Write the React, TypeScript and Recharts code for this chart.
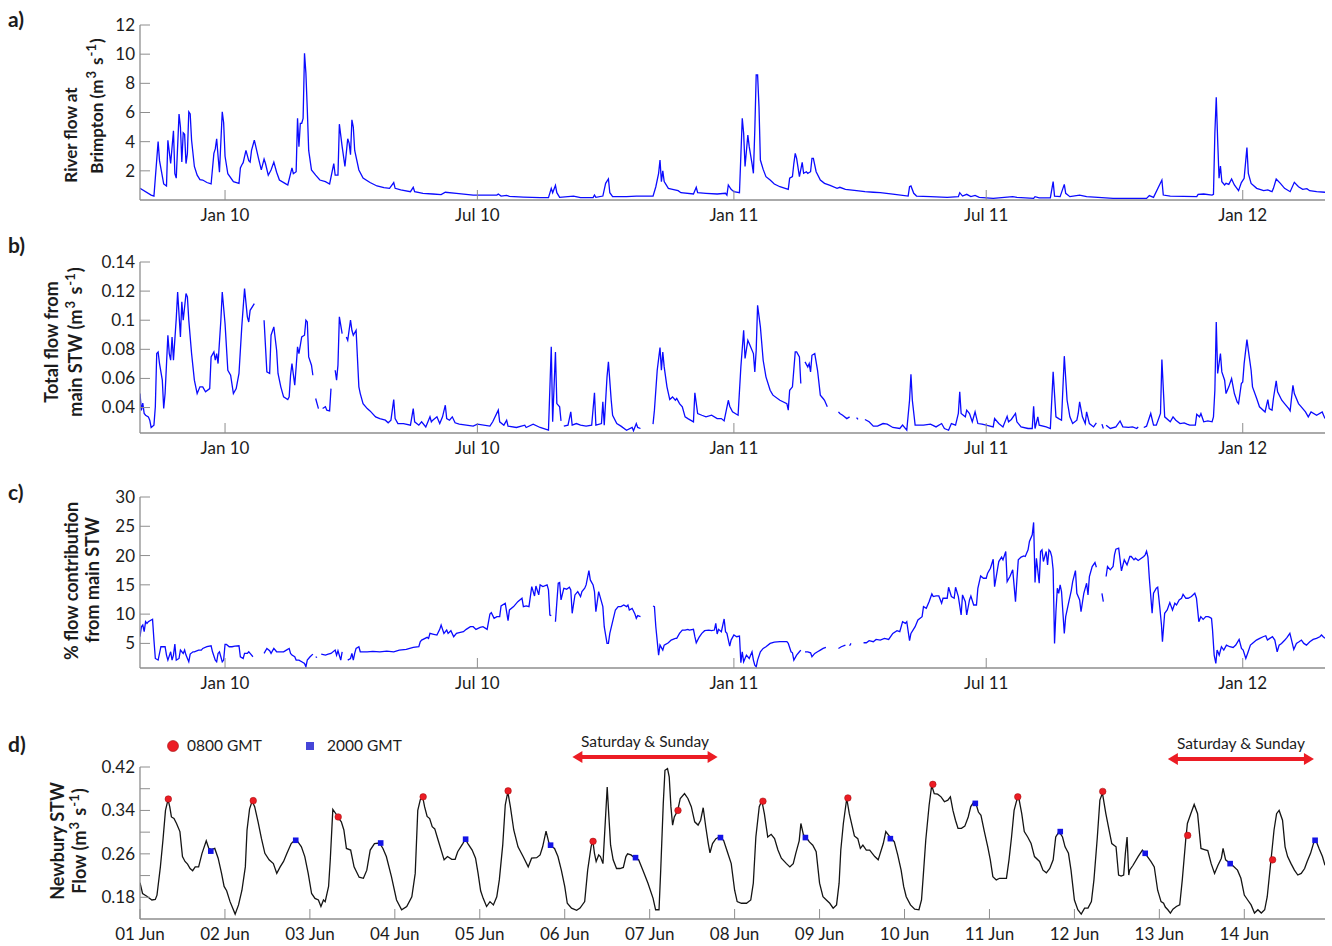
import React from "react";
import {
  ComposedChart,
  Legend,
  Line,
  LineChart,
  ReferenceLine,
  Scatter,
  XAxis,
  YAxis,
} from "recharts";

// ---- data ----
// days since 1 Nov 2009
const monthTicks = [61, 242, 426, 607, 791];
const monthNames = ["Jan 10", "Jul 10", "Jan 11", "Jul 11", "Jan 12"];

// a) river flow at Brimpton, [day, m3/s]
const riverFlow: [number, number][] = [
  [0, 0.8], [8, 0.34], [10, 0.27], [13, 4.0], [14, 2.7], [17, 1.1], [19, 0.96], [20, 4.1], [22, 2.5], [24, 4.75],
  [25, 1.8], [26, 1.5], [28, 5.9], [29, 5.0], [30, 2.6], [31, 4.6], [32, 4.5], [33, 2.5], [34, 3.2], [35, 6.05],
  [36, 5.9], [37, 4.1], [39, 2.3], [41, 1.7], [43, 1.4], [45, 1.37], [48, 1.2], [51, 1.1], [53, 3.2], [54, 3.5],
  [55, 4.2], [56, 3.0], [57, 1.9], [59, 6.05], [60, 5.3], [61, 3.0], [63, 1.8], [67, 1.26], [71, 1.14], [72, 2.2],
  [73, 2.4], [74, 2.56], [76, 3.4], [78, 2.7], [79, 2.6], [80, 3.4], [82, 4.1], [83, 3.7], [85, 2.86], [87, 2.06],
  [89, 2.8], [90, 2.5], [92, 1.7], [94, 2.06], [96, 2.6], [98, 1.9], [100, 1.37], [104, 1.14], [106, 1.03], [109, 2.2],
  [110, 1.8], [112, 1.94], [113, 5.6], [114, 3.66], [115, 5.26], [116, 5.26], [117, 5.6], [118, 10.06], [119, 8.7], [120, 6.2],
  [121, 3.4], [123, 2.06], [126, 1.7], [129, 1.37], [133, 1.26], [136, 1.1], [139, 2.5], [140, 1.7], [142, 1.7], [143, 5.2],
  [145, 3.66], [147, 2.3], [149, 4.2], [150, 3.9], [151, 3.1], [152, 5.5], [153, 5.0], [154, 3.4], [157, 2.06], [160, 1.5],
  [165, 1.2], [170, 0.96], [175, 0.85], [179, 0.8], [182, 1.2], [183, 0.8], [187, 0.69], [194, 0.57], [196, 0.87], [197, 0.57],
  [203, 0.46], [210, 0.41], [216, 0.37], [219, 0.53], [227, 0.46], [239, 0.34], [256, 0.34], [257, 0.41], [259, 0.27], [263, 0.32],
  [265, 0.25], [275, 0.2], [287, 0.16], [293, 0.16], [295, 0.8], [296, 0.5], [298, 1.0], [299, 0.5], [301, 0.18], [311, 0.27],
  [316, 0.16], [325, 0.16], [326, 0.34], [327, 0.18], [332, 0.27], [334, 1.14], [336, 1.44], [337, 0.5], [339, 0.23], [349, 0.23],
  [356, 0.27], [368, 0.27], [370, 0.91], [372, 1.83], [373, 2.74], [374, 1.26], [375, 2.0], [376, 1.26], [379, 0.8], [382, 0.73],
  [386, 0.64], [388, 0.5], [397, 0.41], [399, 0.87], [400, 0.5], [406, 0.46], [414, 0.41], [420, 0.46], [421, 0.34], [422, 1.03],
  [424, 0.73], [426, 0.57], [430, 0.5], [432, 5.6], [433, 4.57], [434, 2.3], [436, 4.46], [437, 3.66], [439, 2.5], [440, 1.83],
  [441, 4.8], [442, 8.57], [443, 8.57], [444, 6.4], [445, 2.74], [447, 2.1], [449, 1.6], [452, 1.37], [455, 1.1], [459, 0.91],
  [465, 0.73], [466, 1.49], [468, 1.6], [469, 2.5], [470, 3.2], [471, 2.86], [473, 1.6], [475, 2.58], [476, 1.83], [478, 1.94],
  [479, 1.83], [481, 1.94], [482, 2.86], [483, 2.86], [485, 1.94], [488, 1.37], [491, 1.14], [495, 1.0], [500, 0.8], [502, 0.87],
  [506, 0.73], [514, 0.64], [520, 0.57], [526, 0.53], [531, 0.5], [540, 0.41], [551, 0.27], [552, 0.91], [553, 0.96], [555, 0.46],
  [557, 0.27], [567, 0.23], [579, 0.18], [587, 0.23], [588, 0.5], [590, 0.27], [593, 0.39], [596, 0.23], [599, 0.32], [602, 0.18],
  [612, 0.11], [626, 0.23], [629, 0.18], [641, 0.11], [642, 0.23], [645, 0.14], [653, 0.14], [655, 1.26], [656, 0.27], [660, 0.23],
  [663, 1.07], [664, 0.46], [667, 0.23], [674, 0.34], [679, 0.23], [698, 0.11], [722, 0.11], [724, 0.3], [727, 0.18], [733, 1.37],
  [734, 0.34], [739, 0.27], [758, 0.23], [759, 0.39], [763, 0.41], [769, 0.34], [770, 0.39], [771, 4.57], [772, 7.04], [773, 4.11],
  [774, 1.49], [775, 2.33], [776, 1.26], [778, 1.03], [779, 1.14], [781, 1.07], [783, 1.44], [785, 1.03], [788, 0.64], [790, 1.19],
  [792, 1.49], [794, 3.59], [795, 1.83], [797, 1.14], [801, 0.8], [806, 0.64], [809, 0.69], [812, 0.57], [813, 0.8], [815, 1.44],
  [818, 1.14], [821, 0.8], [825, 0.57], [828, 1.21], [831, 0.91], [834, 0.73], [837, 0.78], [839, 0.64], [844, 0.57], [850, 0.53],
];

// b) total flow from main STW, [day, m3/s]; null = missing record
const stwFlow: [number, number | null][] = [
  [0, 0.0496], [1, 0.038], [2, 0.043], [3, 0.0359], [4, 0.0347], [6, 0.0336], [7, 0.0313], [8, 0.0263], [10, 0.0279], [11, 0.0405],
  [12, 0.0771], [13, 0.0782], [14, 0.0702], [16, 0.0588], [17, 0.0393], [18, 0.0496], [20, 0.0897], [21, 0.0771], [22, 0.0725], [23, 0.0885],
  [24, 0.0725], [26, 0.1011], [27, 0.1194], [29, 0.0885], [30, 0.1126], [31, 0.1], [33, 0.1183], [34, 0.116], [35, 0.1], [37, 0.0771],
  [39, 0.0588], [41, 0.0496], [43, 0.0542], [45, 0.0542], [47, 0.0508], [50, 0.053], [51, 0.0748], [53, 0.0782], [54, 0.0725], [55, 0.0771],
  [56, 0.0702], [58, 0.1], [59, 0.1194], [61, 0.0977], [63, 0.0656], [65, 0.0622], [67, 0.0496], [69, 0.053], [71, 0.0634], [73, 0.0954],
  [75, 0.1217], [77, 0.1023], [78, 0.0988], [79, 0.1068], [82, 0.1114], [85, null], [89, 0.1], [91, 0.0645], [93, 0.0634], [94, 0.0897],
  [96, 0.0954], [98, 0.0794], [99, 0.0634], [101, 0.0542], [103, 0.0473], [106, 0.0455], [107, 0.0473], [108, 0.0622], [109, 0.0702], [111, 0.0553],
  [112, 0.0679], [113, 0.0817], [114, 0.0771], [116, 0.0885], [118, 0.0897], [119, 0.1], [120, 0.0988], [121, 0.0748], [123, 0.0691], [124, 0.0622],
  [125, null], [126, 0.0462], [128, 0.0393], [129.5, null], [131, 0.0393], [133, 0.0405], [134, 0.0382], [136, 0.0377], [137, 0.053], [138.5, null],
  [140, 0.0656], [141, 0.0588], [142, 0.0691], [143, 0.1023], [145, 0.0908], [146.5, null], [148, 0.0885], [149, 0.0862], [151, 0.1], [152, 0.0931],
  [153, 0.0897], [155, 0.0931], [157, 0.0542], [158, 0.0496], [160, 0.0427], [163, 0.0393], [165, 0.0377], [169, 0.0336], [172, 0.0324], [176, 0.0313],
  [178, 0.0295], [180, 0.0313], [182, 0.0455], [183, 0.0324], [185, 0.029], [189, 0.029], [194, 0.0279], [196, 0.0393], [197, 0.0302], [200, 0.0279],
  [202, 0.0302], [205, 0.0267], [208, 0.0336], [209, 0.0302], [210, 0.0313], [213, 0.0336], [215, 0.029], [217, 0.0336], [219, 0.0416], [220, 0.0324],
  [222, 0.0313], [224, 0.0336], [226, 0.0295], [229, 0.0286], [239, 0.0272], [242, 0.0286], [251, 0.0272], [253, 0.0302], [257, 0.0382], [258, 0.0302],
  [261, 0.0279], [263, 0.0313], [264, 0.0272], [270, 0.0263], [276, 0.0279], [277, 0.0263], [282, 0.0286], [287, 0.0263], [293, 0.0244], [295, 0.0817],
  [296, 0.0302], [298, 0.0782], [299, 0.0427], [301, 0.0405], [302, 0.0308], [303, null], [304, 0.0272], [307, 0.0279], [309, 0.037], [310, 0.0279],
  [313, 0.029], [316, 0.0279], [320, 0.0272], [324, 0.0279], [326, 0.0501], [327, 0.0279], [331, 0.029], [332, 0.0439], [333, 0.0279], [335, 0.0611],
  [336, 0.0714], [338, 0.045], [339, 0.0347], [342, 0.029], [345, 0.0272], [349, 0.0244], [353, 0.0263], [354, 0.024], [356, 0.029], [357, 0.0263],
  [359, 0.0256], [363, null], [368, 0.0286], [369, 0.0382], [371, 0.0656], [373, 0.0812], [374, 0.0656], [375, 0.0782], [376, 0.0679], [378, 0.0542],
  [380, 0.0455], [382, 0.0473], [384, 0.045], [385, 0.0462], [387, 0.0427], [389, 0.0405], [391, 0.0336], [393, 0.0324], [397, 0.0302], [398, 0.0501],
  [400, 0.0359], [403, 0.0347], [406, 0.0336], [410, 0.0347], [414, 0.0324], [417, 0.0324], [419, 0.0308], [422, 0.045], [423, 0.0409], [425, 0.037],
  [429, 0.0347], [431, 0.0679], [433, 0.0931], [434, 0.0737], [436, 0.0862], [437, 0.084], [440, 0.0771], [441, 0.0645], [442, 0.0794], [443, 0.1103],
  [445, 0.0954], [446, 0.084], [447, 0.0725], [449, 0.0611], [452, 0.0519], [454, 0.0485], [459, 0.045], [464, 0.0427], [465, 0.0382], [466, 0.0519],
  [468, 0.0542], [470, 0.0782], [471, 0.0782], [473, 0.0748], [474, 0.0565], [475.5, null], [477, 0.0714], [479, 0.0679], [480, 0.0702], [481, 0.0645],
  [482, 0.0759], [484, 0.0771], [486, 0.0656], [488, 0.0485], [490, 0.0462], [491, 0.045], [493, 0.0405], [497, null], [501, 0.037], [502, 0.0359],
  [504, 0.0347], [507, 0.0324], [509, 0.0336], [511, null], [514, 0.0331], [515, 0.0318], [517, null], [520, 0.0318], [523, 0.0302], [526, 0.0272],
  [529, 0.0272], [533, 0.029], [536, 0.0286], [540, 0.0263], [545, 0.0256], [547, 0.0279], [550, 0.0244], [552, 0.045], [553, 0.0629], [554, 0.045],
  [556, 0.0279], [562, 0.0279], [567, 0.0286], [571, 0.0267], [575, 0.029], [577, 0.0256], [580, 0.0244], [582, 0.029], [585, 0.0279], [587, 0.0359],
  [588, 0.0508], [589, 0.0359], [592, 0.0336], [593, 0.0382], [595, 0.0359], [597, 0.0302], [599, 0.037], [601, 0.029], [604, 0.0286], [607, 0.0279],
  [612, 0.0267], [613, 0.0324], [616, 0.029], [619, 0.0267], [622, 0.034], [623, 0.0302], [625, 0.0318], [628, 0.0359], [629, 0.0302], [632, 0.0267],
  [637, 0.0256], [640, 0.0256], [641, 0.0409], [642, 0.0256], [644, 0.0336], [645, 0.0279], [650, 0.0267], [653, 0.0256], [655, 0.0645], [657, 0.0336],
  [659, 0.0324], [661, 0.0313], [663, 0.0753], [665, 0.045], [667, 0.0336], [669, 0.029], [672, 0.0313], [673, 0.0359], [674, 0.0439], [676, 0.0336],
  [678, 0.029], [679, 0.037], [681, 0.029], [684, 0.0267], [686, 0.0295], [688, null], [690, 0.0286], [691, 0.0256], [692, null], [693, 0.0279],
  [696, 0.0256], [700, 0.0267], [703, 0.0308], [705, 0.0267], [709, 0.0263], [712, 0.0267], [715, 0.0256], [716, 0.0267], [718, null], [720, 0.0263],
  [722, 0.0272], [725, 0.0359], [727, 0.0279], [729, 0.0279], [732, 0.0359], [733, 0.073], [735, 0.0336], [739, 0.0302], [741, 0.0336], [743, 0.0313],
  [746, 0.029], [749, 0.0295], [751, 0.0286], [753, 0.0279], [757, 0.0279], [758, 0.0354], [760, 0.0336], [761, 0.0359], [763, 0.0302], [766, 0.0308],
  [769, 0.0302], [770, 0.0336], [771, 0.0519], [772, 0.0988], [773, 0.0634], [775, 0.0771], [776, 0.0645], [778, 0.0588], [779, 0.0496], [781, 0.0542],
  [783, 0.0599], [785, 0.0496], [787, 0.0439], [788, 0.0427], [790, 0.0565], [791, 0.0576], [792, 0.0702], [794, 0.0867], [795, 0.0794], [797, 0.0656],
  [798, 0.0542], [801, 0.0462], [803, 0.0405], [807, 0.037], [809, 0.0455], [810, 0.0393], [812, 0.0382], [813, 0.0462], [815, 0.0583], [816, 0.0508],
  [819, 0.045], [821, 0.0427], [824, 0.0393], [825, 0.0377], [827, 0.0553], [828, 0.0496], [831, 0.0427], [833, 0.0405], [836, 0.037], [838, 0.0336],
  [840, 0.037], [844, 0.0347], [848, 0.037], [850, 0.0324],
];

// c) % flow contribution from main STW, [day, %]
const stwShare: [number, number | null][] = [
  [0, 6.14], [1, 7.85], [2, 8.14], [3, 7.0], [4, 8.71], [5, 8.42], [6, 8.71], [8, 9.0], [9, 9.11], [10, 5.57],
  [11, 2.43], [13, 2.15], [15, 4.43], [17, 4.43], [18, 4.43], [19, 3.0], [20, 2.15], [22, 3.57], [23, 2.15], [24, 3.0],
  [25, 4.89], [26, 2.15], [28, 2.43], [29, 3.86], [31, 3.29], [32, 3.86], [33, 3.0], [35, 1.86], [36, 3.17], [38, 3.57],
  [39, 3.57], [42, 3.86], [44, 3.86], [45, 4.14], [48, 4.43], [51, 4.6], [52, 3.57], [54, 2.15], [55, 1.86], [56, 3.29],
  [57, 3.57], [59, 1.86], [60, 2.15], [61, 4.83], [62, 4.83], [64, 4.43], [66, 4.43], [68, 4.54], [71, 4.6], [72, 2.72],
  [74, 2.43], [75, 3.29], [77, 3.29], [78, 3.57], [79, 3.29], [81, 2.72], [85, null], [89, 3.29], [91, 4.14], [93, 3.74],
  [94, 3.29], [96, 4.14], [98, 3.57], [100, 3.57], [103, 3.57], [105, 3.86], [107, 4.14], [108, 3.29], [109, 3.0], [111, 2.72],
  [112, 2.15], [114, 2.15], [116, 1.86], [118, 1.58], [119, 1.0], [120, 2.15], [122, 2.72], [124, 3.17], [125, null], [126, 2.72],
  [127, 2.6], [128.5, null], [130, 3.17], [133, 3.0], [135, 3.17], [137, 3.29], [140, 3.86], [141, 3.0], [142, 3.74], [144, 2.15],
  [145, 3.57], [147, null], [149, 2.15], [151, 2.43], [152, 3.29], [153, 2.15], [154, 3.29], [155, 4.14], [157, 4.43], [158, 3.57],
  [160, 3.57], [163, 3.57], [167, 3.63], [172, 3.57], [177, 3.69], [182, 3.57], [186, 3.86], [191, 3.97], [196, 4.31], [200, 4.43],
  [201, 5.29], [202, 5.57], [206, 6.03], [207, 5.86], [208, 6.71], [210, 6.6], [213, 6.43], [215, 7.4], [216, 8.14], [218, 6.71],
  [220, 7.28], [221, 6.71], [223, 7.17], [225, 6.14], [227, 6.71], [229, 6.83], [232, 7.0], [234, 7.4], [237, 7.85], [239, 7.85],
  [241, 7.4], [244, 7.74], [246, 7.85], [249, 7.4], [251, 10.02], [252, 10.25], [254, 9.28], [256, 9.57], [258, 9.57], [259, 11.39],
  [262, 11.85], [264, 8.88], [265, 10.71], [268, 11.28], [271, 12.13], [274, 12.71], [275, 11.28], [277, 11.39], [279, 11.28], [281, 14.7],
  [283, 13.1], [284, 14.8], [286, 13.28], [287, 14.99], [289, 14.7], [292, 14.99], [293, 14.13], [294, 9.85], [295, 9.74], [296.5, null],
  [298, 8.71], [300, 15.27], [301, 15.39], [302, 12.42], [304, 14.42], [306, 14.25], [308, 14.59], [309, 14.13], [310, 10.14], [312, 13.28],
  [314, 13.85], [316, 13.0], [317, 13.85], [319, 14.42], [320, 14.99], [322, 17.44], [323, 15.84], [325, 14.99], [326, 13.85], [327, 10.42],
  [329, 13.85], [330, 13.0], [332, 11.28], [333, 7.85], [335, 5.0], [336, 5.0], [337, 6.71], [339, 8.71], [341, 10.71], [343, 11.28],
  [345, 11.28], [347, 11.56], [349, 11.28], [350, 11.56], [351, 10.71], [353, 10.99], [355, 10.02], [356, 9.28], [357, 9.74], [359, 9.57],
  [363, null], [368, 11.39], [369, 11.28], [370, 7.85], [372, 3.0], [373, 4.71], [375, 3.86], [376, 4.71], [379, 5.11], [381, 5.57],
  [384, 5.86], [385, 5.86], [387, 6.71], [389, 7.28], [391, 7.28], [393, 7.4], [394, 7.28], [397, 7.4], [398, 6.14], [399, 5.11],
  [401, 6.03], [403, 6.71], [405, 7.17], [408, 7.28], [410, 7.17], [412, 7.28], [413, 8.42], [414, 6.6], [415, 7.4], [417, 7.0],
  [419, 9.17], [420, 7.0], [421, 6.71], [423, 4.54], [424, 5.57], [426, 6.43], [428, 6.14], [430, 6.26], [431, 1.69], [432, 3.57],
  [433, 1.86], [435, 3.0], [437, 2.43], [439, 3.57], [440, 2.15], [441, 1.29], [442, 1.0], [443, 2.15], [445, 3.57], [447, 4.14],
  [449, 4.43], [452, 5.0], [455, 5.23], [459, 5.29], [461, 5.29], [464, 5.29], [465, 5.0], [467, 3.57], [468, 3.4], [469, 2.15],
  [471, 3.0], [473, 3.57], [474, 3.86], [475.5, null], [477, 3.57], [479, 3.57], [481, 3.4], [482, 2.72], [484, 3.29], [486, 3.57],
  [488, 3.86], [490, 4.14], [492, 4.31], [496, null], [501, 4.14], [503, 4.43], [506, 4.71], [507.5, null], [509, 4.6], [510, 5.0],
  [512, null], [515, 4.71], [517, null], [519, 5.11], [521, 5.11], [523, 5.46], [526, 5.29], [528, 5.68], [531, 5.57], [534, 5.86],
  [537, 5.68], [540, 6.71], [543, 7.17], [545, 7.0], [547, 8.71], [549, 8.42], [550, 8.71], [552, 5.46], [553, 6.71], [556, 7.85],
  [558, 9.0], [561, 9.57], [562, 11.28], [564, 10.99], [566, 12.13], [568, 13.45], [569, 13.0], [571, 13.1], [573, 13.1], [575, 11.85],
  [576, 12.71], [579, 12.71], [580, 14.59], [582, 13.0], [584, 12.71], [585, 14.59], [587, 13.0], [589, 9.85], [590, 13.28], [592, 12.13],
  [593, 9.85], [595, 12.42], [596, 13.1], [598, 11.56], [600, 11.56], [601, 14.42], [603, 16.53], [605, 16.13], [607, 16.13], [608, 16.99],
  [610, 17.84], [612, 19.38], [613, 14.7], [615, 17.56], [616, 18.98], [618, 19.73], [619, 19.27], [621, 20.7], [622, 15.56], [624, 16.42],
  [626, 17.56], [628, 12.13], [629, 15.84], [630, 19.27], [632, 19.73], [634, 19.95], [635, 19.84], [637, 20.98], [638, 22.41], [640, 23.55],
  [641, 25.66], [642, 15.39], [643, 19.55], [645, 15.27], [646, 20.7], [647, 20.98], [648, 18.98], [650, 20.7], [651, 18.41], [652, 20.98],
  [653, 20.7], [654, 19.84], [655, 17.56], [656, 5.0], [657, 10.42], [658, 14.42], [659, 13.56], [660, 14.99], [661, 13.85], [663, 6.71],
  [664, 9.57], [666, 11.85], [668, 14.02], [669, 15.56], [671, 17.44], [672, 13.56], [674, 12.42], [675, 10.42], [677, 13.56], [679, 15.27],
  [680, 13.28], [681, 16.42], [683, 18.13], [685, 18.81], [686, 18.01], [688, null], [690, 13.56], [691, 12.13], [692, null], [693, 16.42],
  [694, 18.13], [696, 17.56], [698, 18.13], [699, 20.13], [700, 21.1], [702, 21.27], [704, 17.39], [706, 19.27], [708, 18.41], [710, 19.84],
  [711, 19.84], [713, 19.27], [714, 19.55], [716, 19.16], [720, 19.84], [721, 20.13], [722, 20.75], [723, 19.73], [724, 16.13], [726, 10.14],
  [727, 13.56], [729, 14.42], [730, 14.59], [731.5, 11.16], [732.7, 8.14], [733.4, 5.29], [735, 10.14], [736.8, 10.71], [738.7, 11.96], [740.6, 10.71],
  [742.3, 11.85], [743.5, 11.56], [745.4, 12.42], [747.1, 12.71], [748.2, 13.39], [750.2, 12.71], [751.8, 12.71], [754.2, 13.0], [756.6, 13.56], [757.8, 12.71],
  [759.5, 8.71], [760.9, 9.57], [762.6, 9.11], [764.5, 9.57], [766.2, 9.57], [767.4, 9.45], [768.6, 9.28], [769.3, 7.4], [770.5, 3.0], [771.7, 1.58],
  [772.6, 3.86], [774.1, 3.0], [775.7, 4.43], [777.4, 3.86], [779.3, 4.71], [781.7, 4.43], [784.1, 4.31], [786, 4.71], [788.4, 5.68], [790.1, 4.14],
  [791.3, 3.86], [793.2, 2.43], [794.9, 3.57], [796.5, 4.71], [798.5, 5.11], [800.8, 5.57], [803.2, 5.86], [805.6, 6.14], [807.5, 6.31], [808.7, 5.57],
  [810.4, 5.86], [812.3, 6.14], [814, 5.57], [815.7, 3.57], [817.1, 4.71], [818.8, 5.0], [821.2, 5.57], [822.8, 6.03], [824.8, 6.71], [826, 5.57],
  [827.6, 3.97], [829.5, 5.0], [831.4, 5.29], [833.1, 5.57], [834.8, 5.0], [836.7, 4.71], [839.1, 5.29], [841.5, 5.68], [843.9, 5.86], [846.3, 6.14],
  [847.5, 6.43], [848.7, 6.14], [850, 5.86],
];

// d) Newbury STW flow, days since 01 Jun 00:00
const dayNames = ["01 Jun", "02 Jun", "03 Jun", "04 Jun", "05 Jun", "06 Jun", "07 Jun", "08 Jun", "09 Jun", "10 Jun", "11 Jun", "12 Jun", "13 Jun", "14 Jun"];
const newburyFlow: [number, number][] = [
  [0, 0.207], [0.03, 0.187], [0.08, 0.182], [0.14, 0.175], [0.18, 0.176], [0.2, 0.184], [0.24, 0.236], [0.27, 0.285], [0.3, 0.34], [0.33, 0.36],
  [0.35, 0.347], [0.37, 0.328], [0.4, 0.325], [0.43, 0.316], [0.47, 0.301], [0.5, 0.255], [0.53, 0.246], [0.56, 0.241], [0.59, 0.233], [0.62, 0.229],
  [0.65, 0.236], [0.69, 0.236], [0.73, 0.261], [0.78, 0.284], [0.81, 0.27], [0.84, 0.268], [0.88, 0.27], [0.92, 0.252], [0.96, 0.224], [0.99, 0.2],
  [1.02, 0.192], [1.06, 0.172], [1.12, 0.149], [1.16, 0.166], [1.2, 0.193], [1.24, 0.236], [1.26, 0.304], [1.29, 0.343], [1.32, 0.357], [1.35, 0.347],
  [1.39, 0.319], [1.43, 0.288], [1.47, 0.261], [1.52, 0.249], [1.57, 0.242], [1.61, 0.224], [1.65, 0.236], [1.69, 0.246], [1.73, 0.261], [1.78, 0.279],
  [1.82, 0.285], [1.86, 0.282], [1.9, 0.273], [1.94, 0.255], [1.98, 0.224], [2.02, 0.187], [2.06, 0.178], [2.1, 0.175], [2.13, 0.163], [2.16, 0.175],
  [2.18, 0.172], [2.22, 0.2], [2.24, 0.249], [2.27, 0.342], [2.31, 0.333], [2.33, 0.327], [2.37, 0.319], [2.4, 0.304], [2.43, 0.27], [2.48, 0.267],
  [2.52, 0.236], [2.58, 0.217], [2.63, 0.215], [2.67, 0.23], [2.71, 0.267], [2.76, 0.279], [2.82, 0.28], [2.86, 0.27], [2.9, 0.255], [2.96, 0.218],
  [3.02, 0.175], [3.08, 0.157], [3.14, 0.163], [3.2, 0.181], [3.24, 0.224], [3.27, 0.34], [3.3, 0.36], [3.33, 0.363], [3.35, 0.347], [3.38, 0.329],
  [3.41, 0.325], [3.44, 0.31], [3.47, 0.306], [3.51, 0.285], [3.58, 0.249], [3.62, 0.255],
  [3.67, 0.25], [3.71, 0.25], [3.74, 0.264], [3.8, 0.279], [3.83, 0.287], [3.86, 0.279], [3.91, 0.267], [3.95, 0.252], [3.98, 0.224], [4.01, 0.192],
  [4.04, 0.178], [4.08, 0.163], [4.12, 0.172], [4.16, 0.166], [4.2, 0.181], [4.23, 0.212], [4.27, 0.276], [4.3, 0.35], [4.33, 0.374], [4.36, 0.347],
  [4.4, 0.304], [4.45, 0.273], [4.51, 0.255], [4.57, 0.236], [4.61, 0.252], [4.67, 0.253], [4.71, 0.258], [4.74, 0.273], [4.78, 0.302], [4.82, 0.276],
  [4.88, 0.27], [4.92, 0.255], [4.96, 0.23], [5.0, 0.2], [5.03, 0.169], [5.08, 0.16], [5.14, 0.156], [5.18, 0.16], [5.235, 0.172], [5.27, 0.23],
  [5.31, 0.273], [5.33, 0.285], [5.35, 0.261], [5.37, 0.246], [5.4, 0.258], [5.42, 0.255], [5.45, 0.242], [5.47, 0.298], [5.5, 0.383], [5.52, 0.328],
  [5.54, 0.276], [5.57, 0.249], [5.61, 0.233], [5.65, 0.233], [5.69, 0.235], [5.72, 0.255], [5.74, 0.26], [5.78, 0.258], [5.82, 0.253], [5.87, 0.249],
  [5.92, 0.23], [5.98, 0.206], [6.04, 0.178], [6.07, 0.157], [6.11, 0.157], [6.13, 0.23], [6.16, 0.353], [6.18, 0.414], [6.21, 0.417], [6.23, 0.402],
  [6.25, 0.347], [6.27, 0.313], [6.29, 0.328], [6.33, 0.34], [6.36, 0.362], [6.41, 0.371], [6.45, 0.362], [6.49, 0.347], [6.53, 0.319], [6.57, 0.313],
  [6.6, 0.322], [6.63, 0.345], [6.66, 0.31], [6.69, 0.279], [6.71, 0.262], [6.74, 0.279], [6.78, 0.288], [6.82, 0.291], [6.87, 0.285], [6.92, 0.261],
  [6.96, 0.242], [7.0, 0.193], [7.03, 0.172], [7.08, 0.169], [7.14, 0.169], [7.19, 0.175], [7.22, 0.206], [7.25, 0.291], [7.29, 0.347], [7.32, 0.358],
  [7.35, 0.334], [7.39, 0.291], [7.43, 0.296], [7.47, 0.288], [7.51, 0.267], [7.55, 0.252], [7.61, 0.242], [7.65, 0.236], [7.69, 0.242], [7.72, 0.261],
  [7.76, 0.284], [7.78, 0.316], [7.81, 0.295], [7.84, 0.291], [7.88, 0.282], [7.92, 0.276], [7.96, 0.264], [8.0, 0.206], [8.04, 0.181], [8.08, 0.175],
  [8.12, 0.169], [8.16, 0.16], [8.2, 0.166], [8.23, 0.206], [8.25, 0.267], [8.28, 0.316], [8.32, 0.362], [8.35, 0.334], [8.41, 0.293], [8.45, 0.288],
  [8.48, 0.27], [8.51, 0.276], [8.55, 0.267], [8.59, 0.267], [8.65, 0.255], [8.69, 0.249], [8.75, 0.279], [8.78, 0.301], [8.83, 0.291], [8.88, 0.282],
  [8.92, 0.258], [8.96, 0.23], [8.99, 0.2], [9.02, 0.181], [9.07, 0.166], [9.12, 0.158], [9.17, 0.157], [9.2, 0.175], [9.22, 0.218], [9.25, 0.285],
  [9.29, 0.35], [9.32, 0.386], [9.35, 0.371], [9.39, 0.37], [9.43, 0.365], [9.47, 0.356], [9.51, 0.359], [9.54, 0.365], [9.57, 0.34], [9.6, 0.322],
  [9.63, 0.307], [9.67, 0.307], [9.71, 0.311], [9.75, 0.328], [9.78, 0.347], [9.81, 0.354], [9.84, 0.353], [9.87, 0.337], [9.9, 0.331], [9.94, 0.301],
  [9.98, 0.273], [10.01, 0.249], [10.04, 0.218], [10.08, 0.212], [10.12, 0.215], [10.16, 0.215], [10.2, 0.215], [10.23, 0.249], [10.26, 0.291], [10.29, 0.34],
  [10.33, 0.364], [10.35, 0.359], [10.38, 0.334], [10.41, 0.301], [10.45, 0.291], [10.49, 0.279], [10.53, 0.255], [10.59, 0.246], [10.63, 0.23], [10.67, 0.225],
  [10.71, 0.233], [10.75, 0.249], [10.78, 0.291], [10.82, 0.301], [10.86, 0.291], [10.89, 0.273], [10.93, 0.261], [10.96, 0.23], [11.0, 0.175], [11.04, 0.157],
  [11.08, 0.149], [11.12, 0.16], [11.16, 0.16], [11.2, 0.172], [11.23, 0.212], [11.27, 0.291], [11.3, 0.359], [11.33, 0.372], [11.37, 0.334], [11.4, 0.31],
  [11.44, 0.279], [11.49, 0.273], [11.52, 0.221], [11.55, 0.219], [11.58, 0.221], [11.6, 0.261], [11.62, 0.291], [11.64, 0.221], [11.65, 0.23], [11.69, 0.239],
  [11.75, 0.255], [11.8, 0.267], [11.86, 0.255], [11.9, 0.246], [11.94, 0.236], [11.98, 0.193], [12.02, 0.172], [12.05, 0.169], [12.07, 0.162], [12.1, 0.157],
  [12.13, 0.151], [12.16, 0.158], [12.2, 0.163], [12.24, 0.166], [12.27, 0.212], [12.31, 0.285], [12.33, 0.316], [12.37, 0.334], [12.41, 0.351], [12.45, 0.334],
  [12.49, 0.27], [12.53, 0.268], [12.57, 0.266], [12.61, 0.242], [12.65, 0.224], [12.69, 0.239], [12.73, 0.252], [12.75, 0.27], [12.78, 0.249], [12.82, 0.244],
  [12.86, 0.239], [12.92, 0.23], [12.96, 0.215], [13.0, 0.184], [13.04, 0.175], [13.08, 0.166], [13.12, 0.151], [13.16, 0.157], [13.2, 0.151], [13.24, 0.157],
  [13.27, 0.181], [13.31, 0.242], [13.35, 0.304], [13.38, 0.334], [13.41, 0.34], [13.45, 0.322], [13.48, 0.273], [13.51, 0.255], [13.55, 0.242], [13.59, 0.23],
  [13.63, 0.221], [13.67, 0.224], [13.71, 0.233], [13.74, 0.246], [13.78, 0.261], [13.82, 0.282], [13.85, 0.282], [13.88, 0.27], [13.92, 0.255], [13.95, 0.239],
];
// flow at 0800 and 2000 GMT on each day
const flowAt0800 = [0.361, 0.358, 0.328, 0.365, 0.376, 0.283, 0.34, 0.357, 0.363, 0.388, 0.365, 0.375, 0.294, 0.249];
const flowAt2000 = [0.265, 0.285, 0.28, 0.287, 0.276, 0.253, 0.29, 0.29, 0.288, 0.353, 0.301, 0.261, 0.242, 0.285];
// weekend spans (days) and arrow heights (flow units, above the plot)
const weekendSpans = [[5.09, 6.8], [12.1, 13.82]];
const weekendArrowY = [0.4384, 0.4347];

// ---- styling ----
const W = 1332;
const FONT = "Lato, 'Open Sans', sans-serif";
const AXIS_GREY = "#8e8e8e";
const INK = "#1c1c1c";
const BLUE = "#0b0bff";
const RED = "#ec1c24";
const SQUARE_BLUE = "#1414e6";

const toPoints = (pairs: [number, number | null][]) =>
  pairs.map(([day, v]) => ({ day, v }));

function xTick(labelOf: (v: number) => string) {
  return function XTickMark(p: any) {
    const { x, y, payload } = p;
    return (
      <g>
        <line x1={x} x2={x} y1={y} y2={y - 10} stroke={AXIS_GREY} strokeWidth={1} />
        <text x={x} y={y + 21} textAnchor="middle" fontSize={17} fontFamily={FONT} fill={INK}>
          {labelOf(payload.value)}
        </text>
      </g>
    );
  };
}

function yTick(labelOf: (v: number) => string) {
  return function YTickMark(p: any) {
    const { x, y, payload } = p;
    return (
      <g>
        <line x1={x} x2={x + 10} y1={y} y2={y} stroke={AXIS_GREY} strokeWidth={1} />
        <text x={x - 5} y={y} dy="0.35em" textAnchor="end" fontSize={17} fontFamily={FONT} fill={INK}>
          {labelOf(payload.value)}
        </text>
      </g>
    );
  };
}

// m3 s-1 with superscripts, for the rotated titles
const units = (
  <>
    (m<tspan dx={1} dy={-7} fontSize={13}>3</tspan>
    <tspan dx={2} dy={7}> s</tspan>
    <tspan dx={1} dy={-7} fontSize={13}>-1</tspan>
    <tspan dx={1} dy={7}>)</tspan>
  </>
);

interface TitleSpec {
  line1: React.ReactNode;
  line2: React.ReactNode;
  x1: number;
  y1: number;
  x2: number;
  y2: number;
  size: number;
}

function yTitle(t: TitleSpec) {
  return () => (
    <g fontFamily={FONT} fontWeight={700} fontSize={t.size} fill={INK}>
      <text transform={`translate(${t.x1},${t.y1}) rotate(-90)`} textAnchor="middle" dy="0.35em">
        {t.line1}
      </text>
      <text transform={`translate(${t.x2},${t.y2}) rotate(-90)`} textAnchor="middle" dy="0.35em">
        {t.line2}
      </text>
    </g>
  );
}

const monthLabel = (v: number) => monthNames[monthTicks.indexOf(v)] ?? "";

interface TimePanelProps {
  top: number;
  height: number;
  pairs: [number, number | null][];
  domain: [number, number];
  ticks: number[];
  title: TitleSpec;
}

function TimePanel({ top, height, pairs, domain, ticks, title }: TimePanelProps) {
  return (
    <div style={{ position: "absolute", left: 0, top }}>
      <LineChart
        width={W}
        height={height}
        data={toPoints(pairs)}
        margin={{ top: 25, right: 7, bottom: 0, left: 0 }}
      >
        <XAxis
          dataKey="day"
          type="number"
          domain={[0, 850]}
          allowDataOverflow
          ticks={monthTicks}
          interval={0}
          tickSize={0}
          tickMargin={0}
          tickLine={false}
          height={35}
          axisLine={{ stroke: AXIS_GREY, strokeWidth: 1.3 }}
          tick={xTick(monthLabel)}
        />
        <YAxis
          type="number"
          domain={domain}
          allowDataOverflow
          ticks={ticks}
          interval={0}
          width={140}
          tickSize={0}
          tickMargin={0}
          tickLine={false}
          axisLine={{ stroke: AXIS_GREY, strokeWidth: 1.3 }}
          tick={yTick((v) => String(v))}
          label={yTitle(title)}
        />
        <Line
          dataKey="v"
          stroke={BLUE}
          strokeWidth={1.3}
          dot={false}
          activeDot={false}
          connectNulls={false}
          isAnimationActive={false}
        />
      </LineChart>
    </div>
  );
}

const dTicks = [0.18, 0.22, 0.26, 0.3, 0.34, 0.38, 0.42];
const dLabelled = [0.18, 0.26, 0.34, 0.42];
const dayTicks = dayNames.map((_, i) => i);

function weekendArrow(text: string) {
  return (p: any) => {
    const { x1, y1, x2, y2 } = p;
    return (
      <g>
        <line x1={x1 + 7} y1={y1} x2={x2 - 7} y2={y2} stroke={RED} strokeWidth={4} />
        <polygon points={`${x1},${y1} ${x1 + 10},${y1 - 6} ${x1 + 10},${y1 + 6}`} fill={RED} />
        <polygon points={`${x2},${y2} ${x2 - 10},${y2 - 6} ${x2 - 10},${y2 + 6}`} fill={RED} />
        <text
          x={(x1 + x2) / 2}
          y={y1 - 10}
          textAnchor="middle"
          fontSize={15.5}
          fontFamily={FONT}
          fill={INK}
        >
          {text}
        </text>
      </g>
    );
  };
}

function TimingLegend() {
  return (
    <svg width={300} height={20} style={{ display: "block" }}>
      <circle cx={13} cy={10} r={5.5} fill={RED} stroke="#a01010" strokeWidth={0.6} />
      <text x={27} y={10} dy="0.35em" fontSize={15.5} fontFamily={FONT} fill={INK}>
        0800 GMT
      </text>
      <rect x={146} y={6} width={8} height={8} fill="#4646d8" />
      <text x={167} y={10} dy="0.35em" fontSize={15.5} fontFamily={FONT} fill={INK}>
        2000 GMT
      </text>
    </svg>
  );
}

function NewburyPanel() {
  const line = toPoints(newburyFlow);
  const morning = flowAt0800.map((v, i) => ({ day: i + 8 / 24, v }));
  const evening = flowAt2000.map((v, i) => ({ day: i + 20 / 24, v }));
  return (
    <div style={{ position: "absolute", left: 0, top: 717 }}>
      <ComposedChart width={W} height={229} margin={{ top: 50, right: 7, bottom: 0, left: 0 }}>
        <XAxis
          dataKey="day"
          type="number"
          domain={[0, 13.95]}
          allowDataOverflow
          ticks={dayTicks}
          interval={0}
          tickSize={0}
          tickMargin={0}
          tickLine={false}
          height={27}
          axisLine={{ stroke: AXIS_GREY, strokeWidth: 1.3 }}
          tick={xTick((v) => dayNames[v] ?? "")}
        />
        <YAxis
          type="number"
          domain={[0.14, 0.42]}
          allowDataOverflow
          ticks={dTicks}
          interval={0}
          width={140}
          tickSize={0}
          tickMargin={0}
          tickLine={false}
          axisLine={{ stroke: AXIS_GREY, strokeWidth: 1.3 }}
          tick={yTick((v) => (dLabelled.includes(v) ? String(v) : ""))}
          label={yTitle({
            line1: "Newbury STW",
            line2: <>Flow {units}</>,
            x1: 58,
            y1: 124,
            x2: 80,
            y2: 124,
            size: 18,
          })}
        />
        <Legend
          verticalAlign="middle"
          align="center"
          content={() => <TimingLegend />}
          wrapperStyle={{ top: 19, left: 160, width: 300 }}
        />
        <Line
          data={line}
          dataKey="v"
          stroke="#141414"
          strokeWidth={1.3}
          dot={false}
          activeDot={false}
          isAnimationActive={false}
          legendType="none"
        />
        <Scatter
          data={morning}
          dataKey="v"
          isAnimationActive={false}
          shape={(p: any) => (
            <circle cx={p.cx} cy={p.cy} r={3.3} fill={RED} stroke="#9a0d0d" strokeWidth={0.5} />
          )}
        />
        <Scatter
          data={evening}
          dataKey="v"
          isAnimationActive={false}
          shape={(p: any) => (
            <rect x={p.cx - 2.8} y={p.cy - 2.8} width={5.6} height={5.6} fill={SQUARE_BLUE} />
          )}
        />
        {weekendSpans.map(([a, b], i) => (
          <ReferenceLine
            key={i}
            segment={[
              { x: a, y: weekendArrowY[i] },
              { x: b, y: weekendArrowY[i] },
            ]}
            ifOverflow="visible"
            shape={weekendArrow("Saturday & Sunday")}
          />
        ))}
      </ComposedChart>
    </div>
  );
}

const panelLabel = (text: string, top: number) => (
  <div
    style={{
      position: "absolute",
      left: 8,
      top,
      fontFamily: FONT,
      fontWeight: 700,
      fontSize: 21,
      lineHeight: "24px",
      color: INK,
    }}
  >
    {text}
  </div>
);

export default function App() {
  return (
    <div
      style={{
        position: "absolute",
        left: 0,
        top: 0,
        width: W,
        height: 946,
        background: "#fff",
        overflow: "hidden",
      }}
    >
      <TimePanel
        top={0}
        height={235}
        pairs={riverFlow}
        domain={[0, 12]}
        ticks={[2, 4, 6, 8, 10, 12]}
        title={{ line1: "River flow at", line2: <>Brimpton {units}</>, x1: 71, y1: 135, x2: 97, y2: 106, size: 17 }}
      />
      <TimePanel
        top={237}
        height={231}
        pairs={stwFlow}
        domain={[0.0225, 0.14]}
        ticks={[0.04, 0.06, 0.08, 0.1, 0.12, 0.14]}
        title={{ line1: "Total flow from", line2: <>main STW {units}</>, x1: 52, y1: 105, x2: 76, y2: 105, size: 18 }}
      />
      <TimePanel
        top={472}
        height={231}
        pairs={stwShare}
        domain={[0.8, 30]}
        ticks={[5, 10, 15, 20, 25, 30]}
        title={{ line1: "% flow contribution", line2: "from main STW", x1: 72, y1: 109, x2: 93, y2: 108, size: 18 }}
      />
      <NewburyPanel />
      {panelLabel("a)", 7)}
      {panelLabel("b)", 233)}
      {panelLabel("c)", 480)}
      {panelLabel("d)", 732)}
    </div>
  );
}
